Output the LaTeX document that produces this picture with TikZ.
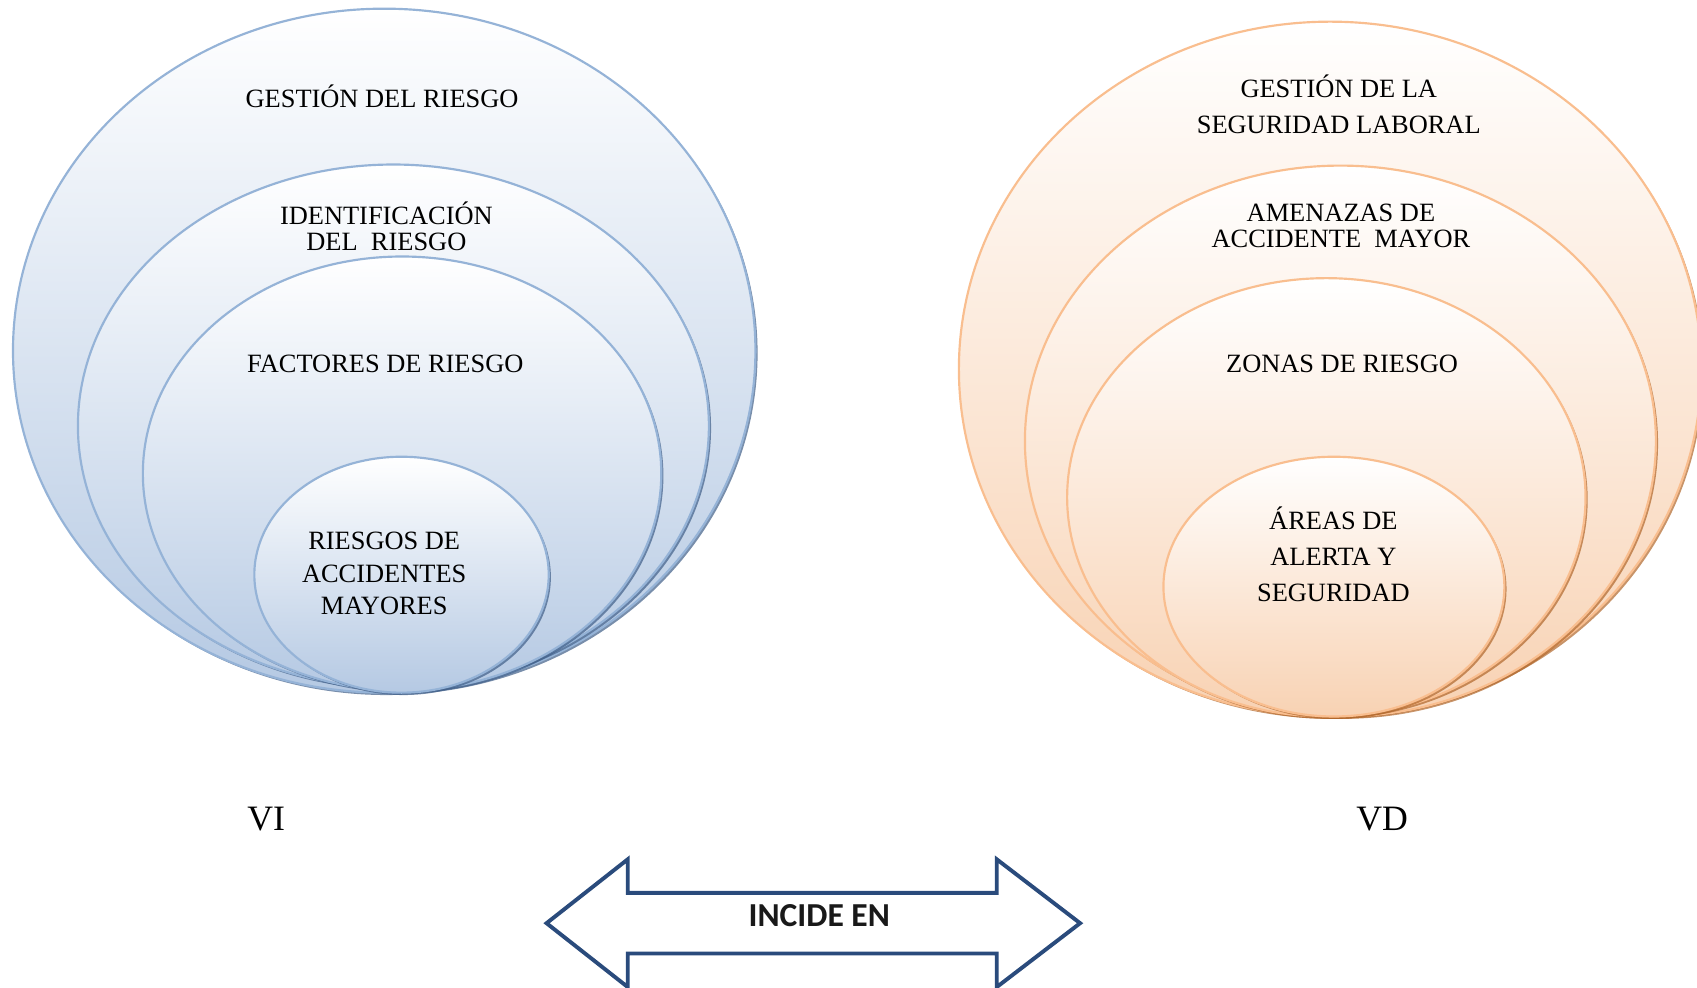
\documentclass[tikz,border=0pt]{standalone}
\usepackage{fontspec}
\setmainfont{Liberation Serif}
\newfontfamily\arrowfont{Carlito}
\usetikzlibrary{calc}

\definecolor{bluestroke}{HTML}{95B3D7}
\definecolor{bluemid}{HTML}{E6EDF6}
\definecolor{bluebot}{HTML}{B5C9E3}
\definecolor{blueshade}{HTML}{3F5E88}
\definecolor{orstroke}{HTML}{F9BE8F}
\definecolor{ormid}{HTML}{FDEEE3}
\definecolor{orbot}{HTML}{F8D2B3}
\definecolor{orshade}{HTML}{B0662A}
\definecolor{navy}{HTML}{2A4B7C}

\tikzset{
  blueset/.style={draw=bluestroke, line width=1pt, top color=white, middle color=bluemid, bottom color=bluebot},
  orangeset/.style={draw=orstroke, line width=1pt, top color=white, middle color=ormid, bottom color=orbot},
  blueshadow/.style={fill=blueshade, opacity=0.7},
  orangeshadow/.style={fill=orshade, opacity=0.7},
  label/.style={font=\fontsize{12.2}{12}\selectfont, align=center, inner sep=0pt, text=black},
  varlabel/.style={font=\fontsize{16.5}{18}\selectfont, inner sep=0pt},
  arrowbox/.style={draw=navy, line width=1.8pt, fill=white, line join=miter},
}

% shadowed, shaded ellipse: #1 set style, #2 shadow style, #3 centre, #4 x radius, #5 y radius
\newcommand{\ringel}[5]{%
  \fill[#2] ($(#3)+(2,2.2)$) ellipse [x radius=#4, y radius=#5];
  \path[#1] (#3) ellipse [x radius=#4, y radius=#5];
}

\begin{document}
\begin{tikzpicture}[x=0.5pt, y=-0.5pt]
  \useasboundingbox (0,0) rectangle (1568,912);

  % left family of ellipses
  \coordinate (l1) at (355,324);
  \coordinate (l2) at (363.5,393.5);
  \coordinate (l3) at (371.5,437.5);
  \coordinate (l4) at (371,531);
  \ringel{blueset}{blueshadow}{l1}{343}{316}
  \ringel{blueset}{blueshadow}{l2}{291.5}{241.5}
  \ringel{blueset}{blueshadow}{l3}{239.5}{200.5}
  \ringel{blueset}{blueshadow}{l4}{136}{109}

  % right family of ellipses
  \coordinate (r1) at (1229,341);
  \coordinate (r2) at (1238.5,407.5);
  \coordinate (r3) at (1225.5,459.5);
  \coordinate (r4) at (1232.5,542);
  \ringel{orangeset}{orangeshadow}{r1}{343}{321}
  \ringel{orangeset}{orangeshadow}{r2}{291.5}{254.5}
  \ringel{orangeset}{orangeshadow}{r3}{239.5}{202.5}
  \ringel{orangeset}{orangeshadow}{r4}{157.5}{120}

  % labels of the left family
  \node[label] (gr) at (353,89) {GESTIÓN DEL RIESGO};
  \node[label] (ir) at (357,209) {IDENTIFICACIÓN\\DEL\ \ RIESGO};
  \node[label] (fr) at (356,336) {FACTORES DE RIESGO};
  \node[label, font=\fontsize{12.2}{15}\selectfont] (ram) at (355,530) {RIESGOS DE\\ACCIDENTES\\MAYORES};

  % labels of the right family
  \node[label, font=\fontsize{12.2}{16.5}\selectfont] (gsl) at (1237,96.5) {GESTIÓN DE LA\\SEGURIDAD LABORAL};
  \node[label] (aam) at (1239,209) {AMENAZAS DE\\ACCIDENTE\ \ MAYOR};
  \node[label] (zr) at (1240,336) {ZONAS DE RIESGO};
  \node[label, font=\fontsize{12.2}{16.5}\selectfont] (aas) at (1232,512) {ÁREAS DE\\ALERTA Y\\SEGURIDAD};

  % variable markers
  \node[varlabel] (vi) at (246,757) {VI};
  \node[varlabel] (vd) at (1277,757) {VD};

  % double-headed block arrow
  \draw[arrowbox] (505,853) -- (580,794) -- (580,825) -- (921,825) -- (921,794)
    -- (998,853) -- (921,912) -- (921,881) -- (580,881) -- (580,912) -- cycle;
  \node[inner sep=0pt, font=\arrowfont\bfseries\fontsize{15.5}{18}\selectfont, text=black!90] (inc) at (757,846) {INCIDE EN};
\end{tikzpicture}
\end{document}
